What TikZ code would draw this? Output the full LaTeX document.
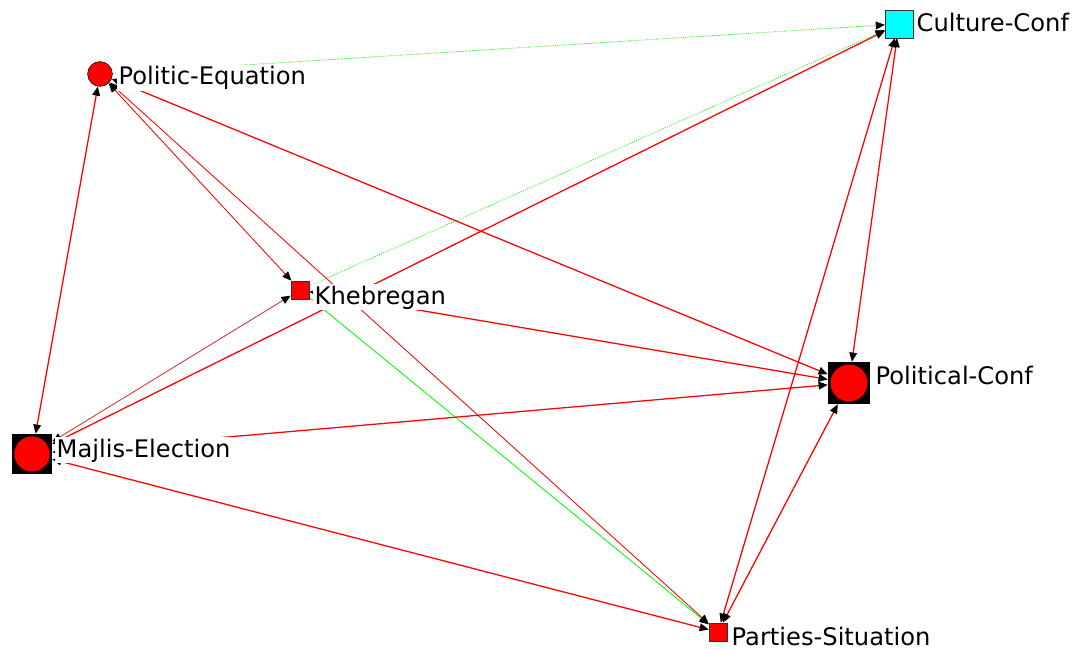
\documentclass[tikz,border=0pt]{standalone}
\usepackage{fontspec}
\setmainfont{DejaVu Sans}
\usetikzlibrary{arrows.meta,positioning}
\pgfdeclarelayer{edges}
\pgfsetlayers{edges,main}
\definecolor{aqua}{RGB}{0,255,255}
\definecolor{netred}{RGB}{255,0,0}
\definecolor{netgreen}{RGB}{0,255,0}

\begin{document}
\begin{tikzpicture}[
    x=0.025cm, y=-0.025cm,
    >={Triangle[length=6.5pt,width=5.5pt,color=black]},
    circnode/.style={circle, draw, fill=netred, minimum size=0.62cm, inner sep=0pt},
    sqnode/.style={rectangle, draw=black!80, fill=netred, minimum size=0.45cm, inner sep=0pt},
    cultnode/.style={rectangle, draw=black!80, fill=aqua, minimum size=0.69cm, inner sep=0pt},
    bignode/.style={rectangle, fill=black, minimum size=#1, inner sep=0pt,
        path picture={\fill[netred] (path picture bounding box.center) circle[radius=0.44*#1];}},
    lbl/.style={fill=white, inner sep=1pt, anchor=base west, font=\fontsize{17.2pt}{20pt}\selectfont},
    redge/.style={draw=netred, line width=0.9pt, <->},
    thinedge/.style={draw=netred, line width=0.6pt, <->},
    gedge/.style={draw=netgreen, line width=0.6pt, ->}
]
\useasboundingbox (0,0) rectangle (1088,650);

% nodes
\node[circnode] (PE) at (100,74) {};
\node[cultnode] (CC) at (899,24) {};
\node[sqnode] (KH) at (300,290) {};
\node[bignode=1.05cm] (PC) at (849,383) {};
\node[bignode=1.0cm] (ME) at (32,454) {};
\node[sqnode] (PS) at (718,632) {};

% labels
\node[lbl] (PE-l) at (117,85) {Politic-Equation};
\node[lbl] (CC-l) at (915,32) {Culture-Conf};
\node[lbl] (KH-l) at (313,304) {Khebregan};
\node[lbl] (PC-l) at (874,384) {Political-Conf};
\node[lbl] (ME-l) at (55,457) {Majlis-Election};
\node[lbl] (PS-l) at (730,645) {Parties-Situation};

\begin{pgfonlayer}{edges}
\draw[gedge, densely dotted] (PE) -- (CC);
\draw[gedge, densely dotted] (KH) -- (CC);
\draw[gedge] (KH) -- (PS);
\draw[redge] (PE) -- (ME);
\draw[thinedge] (PE) -- (KH);
\draw[thinedge] (PE) -- (PS);
\draw[redge] (PE) -- (PC);
\draw[thinedge, draw=netred!60!gray] (ME) -- (KH);
\draw[redge] (ME) -- (CC);
\draw[redge] (ME) -- (PC);
\draw[redge] (ME) -- (PS);
\draw[redge] (KH) -- (PC);
\draw[redge] (CC) -- (PC);
\draw[redge] (CC) -- (PS);
\draw[redge] (PS) -- (PC);
\end{pgfonlayer}
\end{tikzpicture}
\end{document}
